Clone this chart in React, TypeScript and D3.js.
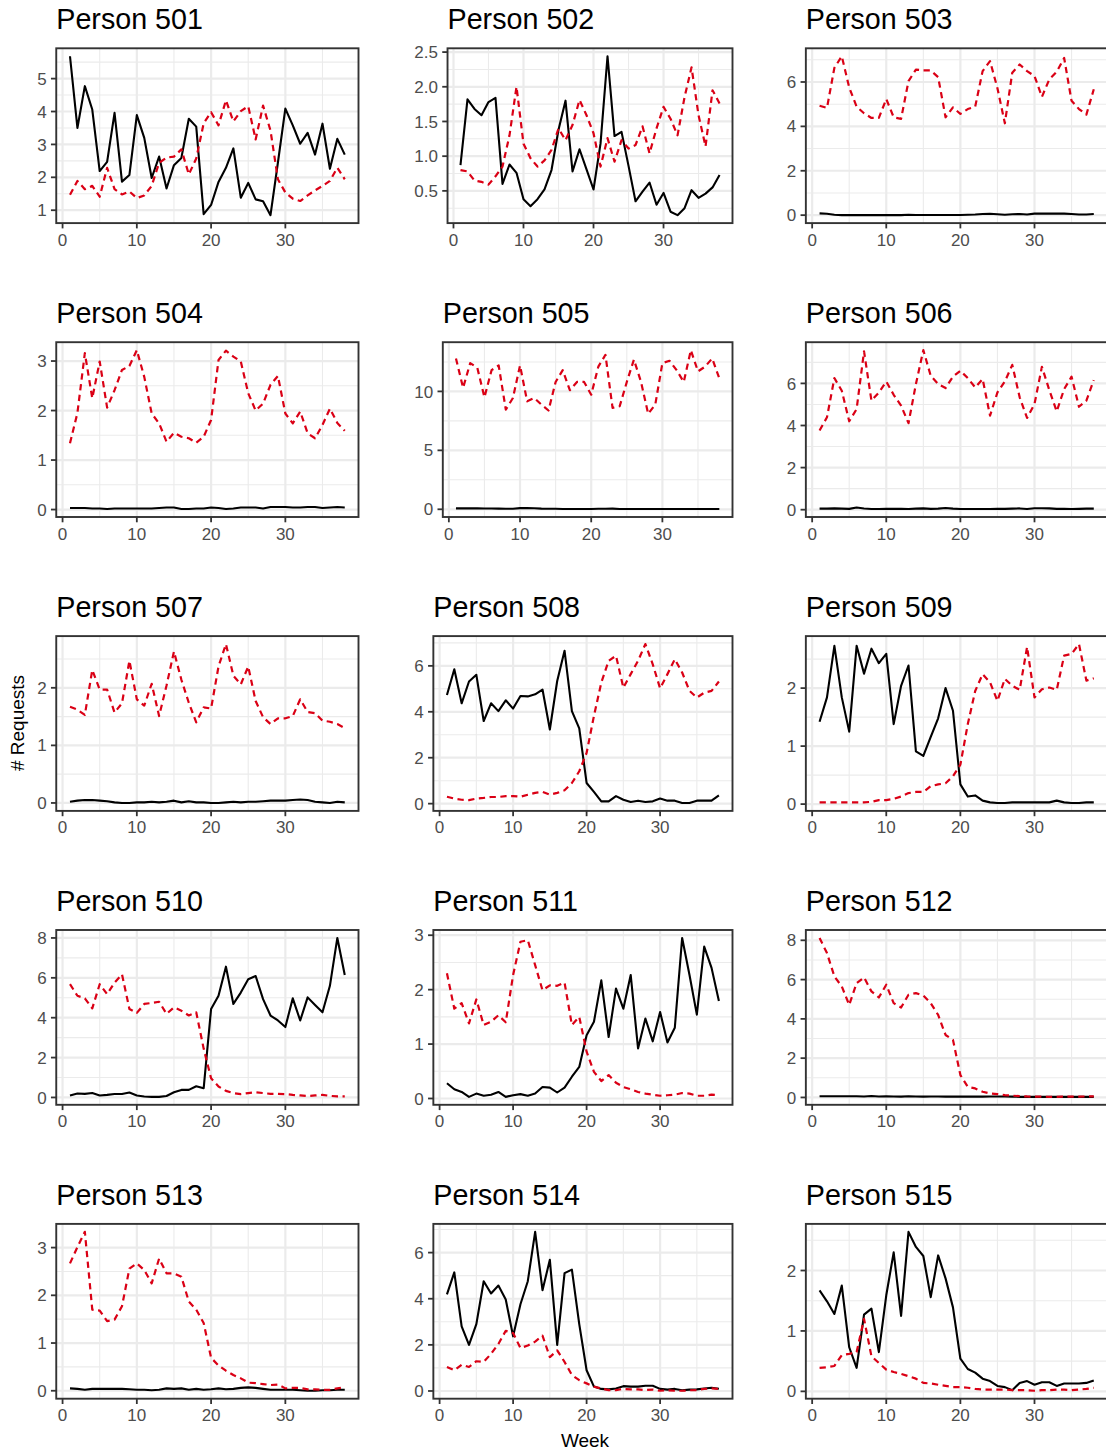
import React from "react";
import * as d3 from "d3";

// Weekly request counts per person: solid = black series, dashed = red series
const weeks = d3.range(1, 39);

const solid501 = [5.68,3.5,4.77,4.06,2.19,2.47,3.96,1.87,2.07,3.89,3.2,1.98,2.63,1.66,2.37,2.59,3.78,3.54,0.88,1.16,1.86,2.29,2.88,1.38,1.83,1.33,1.27,0.85,2.45,4.09,3.58,3.02,3.35,2.69,3.63,2.26,3.17,2.69];
const dashed501 = [1.47,1.89,1.64,1.74,1.41,2.29,1.64,1.48,1.57,1.37,1.45,1.74,2.44,2.6,2.63,2.85,2.09,2.57,3.64,3.98,3.58,4.34,3.7,4.01,4.16,3.15,4.18,3.42,1.94,1.54,1.35,1.28,1.45,1.6,1.74,1.89,2.29,1.94];

const solid502 = [0.87,1.82,1.68,1.59,1.78,1.84,0.6,0.88,0.76,0.38,0.28,0.38,0.52,0.8,1.38,1.8,0.78,1.1,0.81,0.52,1.18,2.44,1.29,1.35,0.86,0.35,0.49,0.62,0.3,0.47,0.2,0.15,0.25,0.51,0.4,0.46,0.55,0.73];
const dashed502 = [0.8,0.78,0.65,0.63,0.59,0.71,0.85,1.3,2.0,1.18,0.97,0.85,0.94,1.09,1.4,1.23,1.45,1.81,1.59,1.33,0.85,1.26,0.92,1.23,1.11,1.16,1.43,1.04,1.4,1.71,1.54,1.3,1.85,2.28,1.59,1.14,1.95,1.76];

const solid503 = [0.08,0.06,0.02,0.0,0.0,0.0,0.0,0.0,0.0,0.0,0.0,0.0,0.02,0.01,0.01,0.01,0.01,0.01,0.01,0.01,0.02,0.03,0.05,0.06,0.04,0.02,0.04,0.05,0.03,0.07,0.07,0.07,0.07,0.07,0.05,0.03,0.03,0.05];
const dashed503 = [4.93,4.83,6.64,7.16,5.75,4.89,4.59,4.38,4.38,5.23,4.41,4.34,6.04,6.56,6.52,6.52,6.22,4.41,4.86,4.56,4.78,4.89,6.49,6.94,5.72,4.14,6.42,6.79,6.49,6.27,5.33,6.12,6.46,7.08,5.15,4.78,4.53,5.67];

const solid504 = [0.03,0.03,0.03,0.02,0.02,0.01,0.02,0.02,0.02,0.02,0.02,0.02,0.03,0.04,0.04,0.01,0.01,0.02,0.02,0.04,0.03,0.01,0.02,0.04,0.04,0.04,0.02,0.05,0.05,0.05,0.04,0.04,0.05,0.05,0.03,0.04,0.05,0.04];
const dashed504 = [1.34,1.95,3.16,2.25,2.99,2.06,2.41,2.82,2.9,3.22,2.68,1.94,1.74,1.37,1.55,1.47,1.44,1.35,1.47,1.81,3.02,3.21,3.09,2.99,2.35,2.0,2.14,2.52,2.7,1.94,1.74,1.98,1.54,1.44,1.71,2.04,1.75,1.59];

const solid505 = [0.08,0.08,0.08,0.08,0.07,0.07,0.06,0.05,0.05,0.1,0.1,0.09,0.06,0.05,0.04,0.03,0.03,0.03,0.03,0.03,0.04,0.04,0.06,0.03,0.03,0.02,0.02,0.02,0.02,0.02,0.02,0.02,0.02,0.02,0.02,0.02,0.02,0.02];
const dashed505 = [12.8,10.3,12.4,12.0,9.5,11.8,12.2,8.46,9.44,12.2,9.16,9.44,8.88,8.38,10.8,11.8,10.1,10.8,10.8,9.72,12.1,13.1,8.6,8.74,10.8,12.7,10.8,8.1,8.88,12.4,12.6,11.8,10.8,13.5,11.7,12.1,12.8,11.1];

const solid506 = [0.05,0.05,0.06,0.05,0.04,0.1,0.06,0.03,0.03,0.04,0.04,0.04,0.03,0.05,0.06,0.04,0.05,0.08,0.05,0.03,0.03,0.03,0.03,0.03,0.04,0.04,0.05,0.06,0.03,0.07,0.07,0.06,0.04,0.04,0.03,0.04,0.05,0.05];
const dashed506 = [3.76,4.39,6.25,5.65,4.2,4.78,7.52,5.18,5.57,6.09,5.46,4.94,4.11,5.97,7.58,6.36,5.97,5.78,6.32,6.6,6.25,5.81,6.21,4.47,5.57,6.09,6.88,5.34,4.36,5.02,6.79,5.68,4.67,5.73,6.32,4.89,5.18,6.16];

const solid507 = [0.02,0.04,0.05,0.05,0.04,0.03,0.01,0.0,0.0,0.01,0.01,0.02,0.01,0.02,0.04,0.01,0.03,0.01,0.01,0.0,0.0,0.01,0.02,0.01,0.02,0.02,0.03,0.04,0.04,0.04,0.05,0.06,0.05,0.02,0.01,0.0,0.02,0.01];
const dashed507 = [1.67,1.62,1.53,2.31,1.97,1.97,1.57,1.73,2.47,1.8,1.69,2.07,1.51,2.04,2.63,2.14,1.74,1.4,1.66,1.64,2.37,2.76,2.21,2.06,2.37,1.77,1.49,1.37,1.47,1.47,1.51,1.8,1.58,1.56,1.43,1.41,1.37,1.3];

const solid508 = [4.73,5.85,4.37,5.32,5.61,3.6,4.37,4.03,4.5,4.14,4.69,4.67,4.76,4.97,3.23,5.34,6.66,4.03,3.28,0.9,0.51,0.1,0.1,0.33,0.17,0.07,0.13,0.07,0.1,0.22,0.13,0.13,0.03,0.03,0.13,0.13,0.13,0.36];
const dashed508 = [0.3,0.22,0.17,0.15,0.22,0.25,0.29,0.29,0.33,0.33,0.3,0.39,0.47,0.51,0.39,0.47,0.58,0.9,1.41,2.21,3.82,5.27,6.22,6.44,5.05,5.64,6.22,6.95,6.07,5.02,5.64,6.29,5.71,4.91,4.62,4.83,4.91,5.32];

const solid509 = [1.42,1.84,2.73,1.84,1.25,2.73,2.25,2.68,2.43,2.59,1.38,2.04,2.39,0.91,0.83,1.16,1.48,2.0,1.61,0.34,0.13,0.15,0.06,0.03,0.02,0.02,0.03,0.03,0.03,0.03,0.03,0.03,0.06,0.03,0.02,0.02,0.03,0.03];
const dashed509 = [0.03,0.03,0.03,0.03,0.03,0.03,0.03,0.04,0.07,0.07,0.09,0.13,0.19,0.21,0.21,0.31,0.34,0.36,0.48,0.68,1.38,1.95,2.24,2.1,1.78,2.16,2.04,1.97,2.71,1.84,1.98,2.01,1.97,2.56,2.59,2.76,2.13,2.17];

const solid510 = [0.1,0.2,0.18,0.22,0.1,0.13,0.17,0.17,0.25,0.1,0.05,0.03,0.03,0.07,0.26,0.38,0.38,0.56,0.46,4.44,5.1,6.56,4.69,5.26,5.93,6.09,4.93,4.11,3.86,3.53,4.97,3.86,5.02,4.64,4.27,5.6,8.0,6.14];
const dashed510 = [5.68,5.1,4.97,4.47,5.68,5.18,5.76,6.18,4.44,4.24,4.69,4.74,4.8,4.19,4.52,4.35,4.11,4.27,2.45,0.96,0.55,0.33,0.22,0.17,0.22,0.26,0.22,0.18,0.18,0.17,0.13,0.1,0.07,0.1,0.13,0.08,0.05,0.05];

const solid511 = [0.28,0.17,0.12,0.03,0.09,0.05,0.07,0.12,0.03,0.06,0.08,0.05,0.09,0.21,0.2,0.11,0.2,0.4,0.58,1.16,1.41,2.17,1.13,2.02,1.65,2.27,0.92,1.47,1.05,1.59,1.03,1.3,2.95,2.27,1.54,2.79,2.4,1.79];
const dashed511 = [2.3,1.65,1.75,1.38,1.82,1.35,1.41,1.53,1.4,2.27,2.88,2.91,2.45,1.99,2.08,2.07,2.13,1.35,1.5,0.86,0.49,0.32,0.43,0.29,0.21,0.17,0.12,0.09,0.07,0.05,0.06,0.07,0.1,0.09,0.05,0.05,0.07,0.06];

const solid512 = [0.06,0.06,0.06,0.06,0.06,0.06,0.05,0.07,0.05,0.06,0.05,0.04,0.06,0.05,0.04,0.05,0.05,0.04,0.04,0.04,0.04,0.04,0.04,0.05,0.05,0.05,0.04,0.03,0.03,0.03,0.03,0.03,0.03,0.03,0.03,0.03,0.03,0.03];
const dashed512 = [8.12,7.35,6.16,5.65,4.71,5.82,6.11,5.4,5.09,5.74,4.8,4.58,5.23,5.31,5.19,4.8,4.2,3.18,2.93,1.14,0.54,0.46,0.29,0.2,0.17,0.12,0.09,0.07,0.05,0.04,0.04,0.03,0.03,0.04,0.04,0.04,0.05,0.05];

const solid513 = [0.05,0.04,0.02,0.04,0.04,0.04,0.04,0.04,0.03,0.02,0.02,0.01,0.02,0.05,0.04,0.05,0.02,0.04,0.02,0.03,0.05,0.03,0.04,0.06,0.07,0.06,0.04,0.02,0.02,0.02,0.02,0.01,0.0,0.0,0.01,0.01,0.02,0.02];
const dashed513 = [2.67,3.01,3.33,1.7,1.68,1.46,1.49,1.77,2.56,2.67,2.53,2.25,2.77,2.46,2.46,2.39,1.87,1.7,1.42,0.69,0.53,0.42,0.33,0.26,0.17,0.16,0.14,0.12,0.13,0.05,0.06,0.06,0.03,0.03,0.02,0.02,0.05,0.07];

const solid514 = [4.19,5.14,2.8,2.0,2.9,4.76,4.23,4.57,3.97,2.37,3.76,4.76,6.9,4.37,5.69,2.0,5.11,5.26,2.9,0.9,0.19,0.09,0.07,0.11,0.21,0.19,0.19,0.23,0.23,0.09,0.06,0.09,0.03,0.06,0.07,0.11,0.14,0.1];
const dashed514 = [1.04,0.9,1.14,1.04,1.29,1.26,1.61,2.04,2.61,2.51,1.86,1.97,2.14,2.4,1.47,1.76,1.26,0.69,0.47,0.33,0.19,0.11,0.04,0.04,0.09,0.07,0.07,0.04,0.06,0.01,0.03,0.01,0.01,0.03,0.04,0.09,0.11,0.09];

const solid515 = [1.67,1.49,1.28,1.75,0.73,0.39,1.27,1.37,0.65,1.59,2.3,1.25,2.64,2.39,2.24,1.56,2.25,1.87,1.39,0.54,0.37,0.31,0.21,0.17,0.09,0.07,0.02,0.14,0.17,0.11,0.15,0.15,0.09,0.13,0.13,0.13,0.14,0.18];
const dashed515 = [0.39,0.4,0.42,0.6,0.62,0.65,1.2,0.58,0.47,0.36,0.32,0.29,0.25,0.21,0.14,0.13,0.11,0.09,0.07,0.07,0.06,0.04,0.03,0.03,0.03,0.03,0.02,0.02,0.02,0.01,0.02,0.02,0.03,0.03,0.02,0.03,0.04,0.06];

const personIds = [501, 502, 503, 504, 505, 506, 507, 508, 509, 510, 511, 512, 513, 514, 515];
const solidSeries = [solid501, solid502, solid503, solid504, solid505, solid506, solid507, solid508, solid509, solid510, solid511, solid512, solid513, solid514, solid515];
const dashedSeries = [dashed501, dashed502, dashed503, dashed504, dashed505, dashed506, dashed507, dashed508, dashed509, dashed510, dashed511, dashed512, dashed513, dashed514, dashed515];

// y-axis breaks for each person's panel
const yTicks = [
  [1, 2, 3, 4, 5],
  [0.5, 1.0, 1.5, 2.0, 2.5],
  [0, 2, 4, 6],
  [0, 1, 2, 3],
  [0, 5, 10],
  [0, 2, 4, 6],
  [0, 1, 2],
  [0, 2, 4, 6],
  [0, 1, 2],
  [0, 2, 4, 6, 8],
  [0, 1, 2, 3],
  [0, 2, 4, 6, 8],
  [0, 1, 2, 3],
  [0, 2, 4, 6],
  [0, 1, 2],
];
const xTicks = [0, 10, 20, 30];
const xMinor = [5, 15, 25, 35];

const FONT = "'Liberation Sans', Arial, Helvetica, sans-serif";
const TICK_SIZE = 17;
const TITLE_SIZE = 28.7;
const colAnchor = [36.4, 413.5, 786];
const colRight = [358.5, 732.5, 1107.5];
const rowTop0 = 48.3;
const rowStep = 293.9;
const panelH = 174.8;
const RED = "#DA0015";
const GRID = "#EBEBEB";
const DARK = "#333333";

function labelWidth(s: string, size: number): number {
  let w = 0;
  for (const ch of s) w += ch === "." ? 0.278 : 0.556;
  return w * size;
}

function minorBreaks(major: number[], lo: number, hi: number): number[] {
  const b = major.slice();
  const bd = b[1] - b[0];
  if (b[0] > lo) b.unshift(b[0] - bd);
  if (b[b.length - 1] < hi) b.push(b[b.length - 1] + bd);
  const out: number[] = [];
  for (let i = 0; i < b.length - 1; i++) {
    const m = (b[i] + b[i + 1]) / 2;
    if (m >= lo && m <= hi) out.push(m);
  }
  return out;
}

function Panel({ idx }: { idx: number }) {
  const col = idx % 3;
  const row = Math.floor(idx / 3);
  const solid = solidSeries[idx];
  const dashed = dashedSeries[idx];
  const ticks = yTicks[idx];
  const decimals = ticks[1] - ticks[0] < 1 ? 1 : 0;
  const labels = ticks.map((t) => t.toFixed(decimals));
  const maxW = d3.max(labels, (l) => labelWidth(l, TICK_SIZE)) as number;

  const left = colAnchor[col] + maxW + 10.4;
  const right = colRight[col];
  const top = rowTop0 + row * rowStep;
  const bottom = top + panelH;

  const xPad = (weeks[weeks.length - 1] - weeks[0]) * 0.05;
  const x = d3
    .scaleLinear()
    .domain([weeks[0] - xPad, weeks[weeks.length - 1] + xPad])
    .range([left, right]);

  const [lo, hi] = d3.extent([...solid, ...dashed]) as [number, number];
  const yPad = (hi - lo) * 0.05;
  const yDomain: [number, number] = [lo - yPad, hi + yPad];
  const y = d3.scaleLinear().domain(yDomain).range([bottom, top]);
  const yMinor = minorBreaks(ticks, yDomain[0], yDomain[1]);

  const line = d3
    .line<number>()
    .x((_, i) => x(weeks[i]))
    .y((d) => y(d));

  return (
    <g>
      <text x={left} y={top - 19} fontSize={TITLE_SIZE} fill="#000" fontFamily={FONT}>
        {`Person ${personIds[idx]}`}
      </text>
      <rect x={left} y={top} width={right - left} height={bottom - top} fill="#fff" />
      {yMinor.map((v) => (
        <line key={`ym${v}`} x1={left} x2={right} y1={y(v)} y2={y(v)} stroke={GRID} strokeWidth={1.1} />
      ))}
      {xMinor.map((v) => (
        <line key={`xm${v}`} x1={x(v)} x2={x(v)} y1={top} y2={bottom} stroke={GRID} strokeWidth={1.1} />
      ))}
      {ticks.map((v) => (
        <line key={`yM${v}`} x1={left} x2={right} y1={y(v)} y2={y(v)} stroke={GRID} strokeWidth={2.2} />
      ))}
      {xTicks.map((v) => (
        <line key={`xM${v}`} x1={x(v)} x2={x(v)} y1={top} y2={bottom} stroke={GRID} strokeWidth={2.2} />
      ))}
      <path d={line(solid) || ""} fill="none" stroke="#000" strokeWidth={2.1} strokeLinejoin="round" />
      <path
        d={line(dashed) || ""}
        fill="none"
        stroke={RED}
        strokeWidth={2.2}
        strokeDasharray="6.3 4.5"
        strokeLinejoin="round"
      />
      <rect
        x={left}
        y={top}
        width={right - left}
        height={bottom - top}
        fill="none"
        stroke={DARK}
        strokeWidth={1.9}
      />
      {ticks.map((v, i) => (
        <g key={`yt${v}`}>
          <line x1={left - 5.3} x2={left} y1={y(v)} y2={y(v)} stroke={DARK} strokeWidth={1.8} />
          <text
            x={left - 9.6}
            y={y(v)}
            dy="0.36em"
            textAnchor="end"
            fontSize={TICK_SIZE}
            fill="#4D4D4D"
            fontFamily={FONT}
          >
            {labels[i]}
          </text>
        </g>
      ))}
      {xTicks.map((v) => (
        <g key={`xt${v}`}>
          <line x1={x(v)} x2={x(v)} y1={bottom} y2={bottom + 5.3} stroke={DARK} strokeWidth={1.8} />
          <text
            x={x(v)}
            y={bottom + 22.5}
            textAnchor="middle"
            fontSize={TICK_SIZE}
            fill="#4D4D4D"
            fontFamily={FONT}
          >
            {v}
          </text>
        </g>
      ))}
    </g>
  );
}

export default function App() {
  return (
    <svg
      width={1106}
      height={1451}
      style={{ position: "absolute", left: 0, top: 0, background: "#fff", display: "block" }}
    >
      <rect x={0} y={0} width={1106} height={1451} fill="#fff" />
      {personIds.map((_, i) => (
        <Panel key={i} idx={i} />
      ))}
      <text
        transform="translate(24.3, 723) rotate(-90)"
        textAnchor="middle"
        fontSize={19}
        fill="#000"
        fontFamily={FONT}
      >
        # Requests
      </text>
      <text x={585} y={1447} textAnchor="middle" fontSize={19} fill="#000" fontFamily={FONT}>
        Week
      </text>
    </svg>
  );
}
